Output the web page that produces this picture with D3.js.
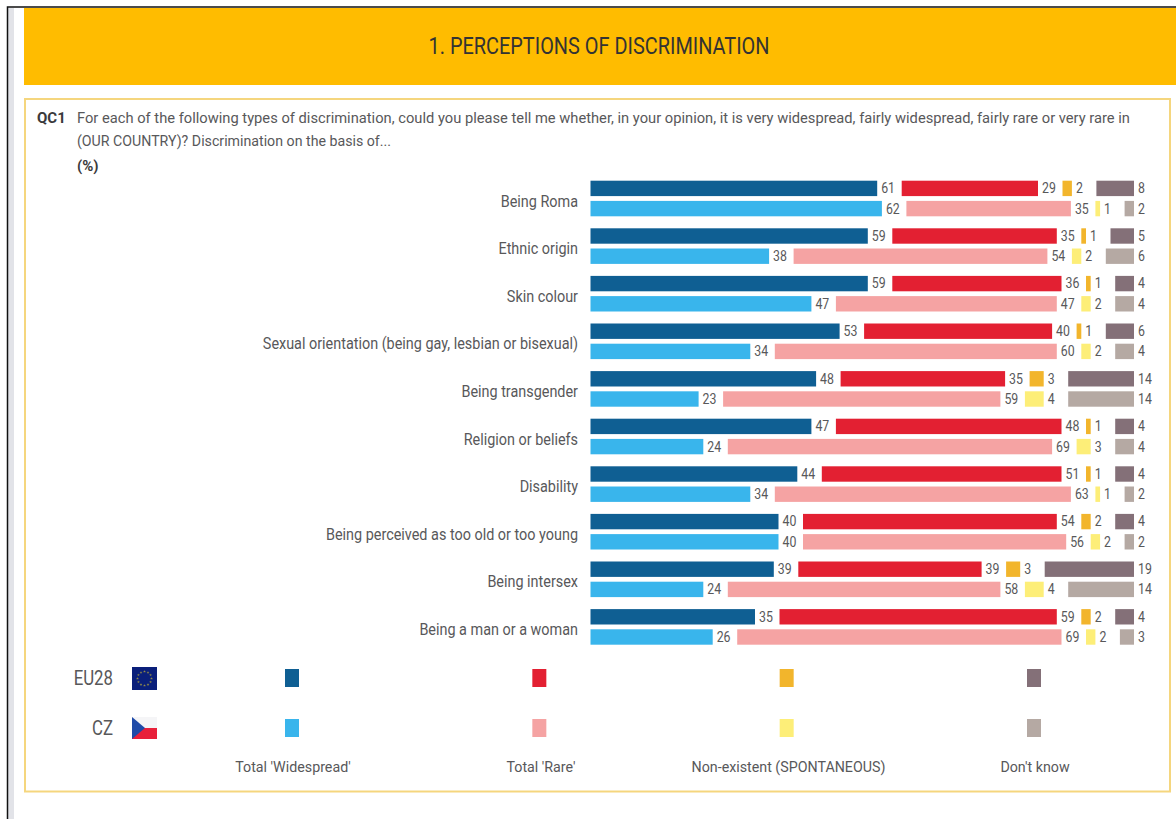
<!DOCTYPE html>
<html>
<head>
<meta charset="utf-8">
<title>Perceptions of discrimination</title>
<script src="https://cdn.jsdelivr.net/npm/d3@7"></script>
<style>
html, body { margin: 0; padding: 0; background: #fff; overflow: hidden; }
text { font-family: "Roboto", "Noto Sans", sans-serif; }
</style>
</head>
<body>
<svg id="chart" width="1176" height="819"></svg>
<script>
const categories = [
  "Being Roma", "Ethnic origin", "Skin colour",
  "Sexual orientation (being gay, lesbian or bisexual)", "Being transgender",
  "Religion or beliefs", "Disability", "Being perceived as too old or too young",
  "Being intersex", "Being a man or a woman"
];
const responses = ["Total 'Widespread'", "Total 'Rare'", "Non-existent (SPONTANEOUS)", "Don't know"];
const areas = ["EU28", "CZ"];

const eu28Widespread = [61, 59, 59, 53, 48, 47, 44, 40, 39, 35];
const eu28Rare       = [29, 35, 36, 40, 35, 48, 51, 54, 39, 59];
const eu28None       = [2, 1, 1, 1, 3, 1, 1, 2, 3, 2];
const eu28DontKnow   = [8, 5, 4, 6, 14, 4, 4, 4, 19, 4];

const czWidespread = [62, 38, 47, 34, 23, 24, 34, 40, 24, 26];
const czRare       = [35, 54, 47, 60, 59, 69, 63, 56, 58, 69];
const czNone       = [1, 2, 2, 2, 4, 3, 1, 2, 4, 2];
const czDontKnow   = [2, 6, 4, 4, 14, 4, 2, 2, 14, 3];

const eu28Colours = ["#0f5f93", "#e32032", "#f2b52c", "#847078"];
const czColours   = ["#39b5ec", "#f5a3a3", "#fdee78", "#b5a9a3"];

const questionLines = [
  "For each of the following types of discrimination, could you please tell me whether, in your opinion, it is very widespread, fairly widespread, fairly rare or very rare in",
  "(OUR COUNTRY)? Discrimination on the basis of..."
];

const svg = d3.select("#chart");
const inkColour = "#58585a";

// The house typeface runs narrower than Roboto, so text is squeezed horizontally
function squeeze(selection, factor) {
  selection.each(function () {
    const t = d3.select(this);
    t.attr("textLength", this.getComputedTextLength() * factor)
     .attr("lengthAdjust", "spacingAndGlyphs");
  });
  return selection;
}

// Page frame, side strip and section banner
svg.append("rect").attr("x", 8).attr("y", 8).attr("width", 6).attr("height", 811).attr("fill", "#e2e3e8");
svg.append("path").attr("d", "M7.5,819V7H1176").attr("fill", "none").attr("stroke", "#111").attr("stroke-width", 1.5);
svg.append("rect").attr("x", 24).attr("y", 8).attr("width", 1152).attr("height", 77).attr("fill", "#ffbc00");
svg.append("text").attr("x", 599).attr("y", 54).attr("text-anchor", "middle")
  .attr("font-size", 24).attr("textLength", 341).attr("lengthAdjust", "spacingAndGlyphs")
  .attr("fill", "#333").text("1. PERCEPTIONS OF DISCRIMINATION");

// Question panel
svg.append("rect").attr("x", 25).attr("y", 99).attr("width", 1145).attr("height", 692.5)
  .attr("fill", "#fff").attr("stroke", "#f5d67e").attr("stroke-width", 2);
svg.append("text").attr("x", 37).attr("y", 123).attr("font-size", 15).attr("font-weight", 700)
  .attr("fill", "#3a3a3c").text("QC1");
const questionWidths = [1053, 314];
svg.selectAll("text.question").data(questionLines).join("text")
  .attr("class", "question").attr("x", 77).attr("y", (d, i) => 123 + i * 23)
  .attr("font-size", 15).attr("fill", inkColour)
  .attr("textLength", (d, i) => questionWidths[i]).attr("lengthAdjust", "spacingAndGlyphs")
  .text(d => d);
svg.append("text").attr("x", 77).attr("y", 171).attr("font-size", 15).attr("font-weight", 700)
  .attr("fill", "#3a3a3c").text("(%)");

// Scales: value to bar length, category to row, area to bar within the row
const x = d3.scaleLinear().domain([0, 100]).range([0, 470]);
const y = d3.scaleBand().domain(categories).range([177.5, 653.5]);
const sub = d3.scaleBand().domain(areas).range([3.2, 38.8]).paddingInner(0.238);
const segmentGap = 24.5;
const chartLeft = 590.5;

const rows = [
  { area: "EU28", colours: eu28Colours, series: [eu28Widespread, eu28Rare, eu28None, eu28DontKnow] },
  { area: "CZ", colours: czColours, series: [czWidespread, czRare, czNone, czDontKnow] }
];

// Category labels, right aligned against the bars
svg.selectAll("text.category").data(categories).join("text")
  .attr("class", "category").attr("x", 578)
  .attr("y", d => y(d) + 23.5)
  .attr("dy", "0.35em").attr("text-anchor", "end")
  .attr("font-size", 16).attr("fill", inkColour)
  .text(d => d)
  .call(squeeze, 0.9);

// Each row is four separated segments, every one followed by its value
const segments = [];
rows.forEach(row => {
  categories.forEach((cat, c) => {
    let start = chartLeft;
    row.series.forEach((values, s) => {
      const v = values[c];
      segments.push({ area: row.area, cat, s, v, start, colour: row.colours[s] });
      start += x(v) + segmentGap;
    });
  });
});

const marks = svg.append("g");
marks.selectAll("rect").data(segments).join("rect")
  .attr("x", d => d.start)
  .attr("y", d => y(d.cat) + sub(d.area))
  .attr("width", d => x(d.v))
  .attr("height", sub.bandwidth())
  .attr("fill", d => d.colour);
marks.selectAll("text").data(segments).join("text")
  .attr("x", d => d.start + x(d.v) + 4)
  .attr("y", d => y(d.cat) + sub(d.area) + sub.bandwidth() / 2)
  .attr("dy", "0.35em")
  .attr("font-size", 14).attr("fill", inkColour)
  .text(d => d.v)
  .call(squeeze, 0.88);

// Legend grid: area names and flags on the left, one swatch per response and area
const legendX = d3.scalePoint().domain(responses).range([292, 1034]);
const legendY = d3.scalePoint().domain(areas).range([678, 728]);
const labelX = [293, 541, 788.5, 1035];

svg.selectAll("text.area").data(areas).join("text")
  .attr("class", "area").attr("x", 113).attr("y", d => legendY(d))
  .attr("dy", "0.35em").attr("text-anchor", "end")
  .attr("font-size", 21).attr("fill", inkColour)
  .text(d => d)
  .call(squeeze, 0.8);

rows.forEach(row => {
  svg.append("g").selectAll("rect").data(responses).join("rect")
    .attr("x", d => legendX(d) - 7)
    .attr("y", legendY(row.area) - 9)
    .attr("width", 14).attr("height", 18)
    .attr("fill", (d, i) => row.colours[i]);
});

svg.selectAll("text.response").data(responses).join("text")
  .attr("class", "response").attr("x", (d, i) => labelX[i]).attr("y", 772)
  .attr("text-anchor", "middle").attr("font-size", 15).attr("fill", inkColour)
  .text(d => d)
  .call(squeeze, 0.95);

// EU flag: twelve stars in a ring on dark blue
const euFlag = svg.append("g").attr("transform", `translate(132,667)`);
euFlag.append("rect").attr("width", 25).attr("height", 23).attr("fill", "#0a1f7a");
const star = d3.symbol().type(d3.symbolStar).size(2.5)();
euFlag.selectAll("path").data(d3.range(12)).join("path")
  .attr("d", star).attr("fill", "#8f8a4a")
  .attr("transform", d => {
    const a = d / 12 * 2 * Math.PI;
    return `translate(${12.5 + 7 * Math.cos(a)},${11.5 + 7 * Math.sin(a)})`;
  });

// Czech flag: white over red with a blue hoist triangle
const czFlag = svg.append("g").attr("transform", `translate(132,717)`);
czFlag.append("rect").attr("width", 25).attr("height", 11).attr("fill", "#f5f5f7");
czFlag.append("rect").attr("y", 11).attr("width", 25).attr("height", 11).attr("fill", "#e8203a");
czFlag.append("path").attr("d", "M0,0L13,11L0,22Z").attr("fill", "#1f4aa8");
</script>
</body>
</html>
